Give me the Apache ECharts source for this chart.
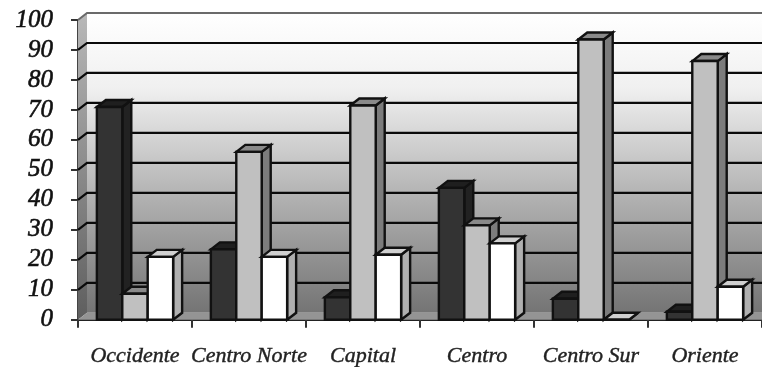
<!DOCTYPE html>
<html>
<head>
<meta charset="utf-8">
<style>html,body{margin:0;padding:0;background:#fff}#c{width:762px;height:367px}</style>
<script src="https://cdn.jsdelivr.net/npm/echarts@6/dist/echarts.min.js"></script>
</head>
<body>
<div id="c"></div>
<script>
// Regional percentages drawn as pseudo-3D columns
const categories = ['Occidente', 'Centro Norte', 'Capital', 'Centro', 'Centro Sur', 'Oriente'];
const darkValues = [71, 23.5, 7.5, 44, 7, 2.7];
const grayValues = [8.7, 56, 71.5, 31.5, 93.5, 86.3];
const whiteValues = [21, 21, 21.7, 25.5, 0, 11];
const gridTicks = [10, 20, 30, 40, 50, 60, 70, 80, 90];

// Oblique projection offset of the chart's depth, in pixels
const DEPTH_X = 9;
const DEPTH_Y = -7;
const SLOT_SHARE = 0.223;
const EDGE = '#111';

const poly = (points, fill) => ({
  type: 'polygon',
  shape: { points },
  style: { fill, stroke: EDGE, lineWidth: 2.4 }
});

// One column: front, top and side faces for a slot within its category
function columnRenderer(slot, front, top, side) {
  return function (params, api) {
    const cat = api.value(0);
    const base = api.coord([cat, 0]);
    const head = api.coord([cat, api.value(1)]);
    const band = api.size([1, 0])[0];
    const w = band * SLOT_SHARE;
    const x0 = base[0] + (slot - 1.5) * w;
    const x1 = x0 + w;
    const yT = head[1];
    const yB = base[1];
    return {
      type: 'group',
      children: [
        poly([[x1, yB], [x1 + DEPTH_X, yB + DEPTH_Y], [x1 + DEPTH_X, yT + DEPTH_Y], [x1, yT]], side),
        poly([[x0, yT], [x0 + DEPTH_X, yT + DEPTH_Y], [x1 + DEPTH_X, yT + DEPTH_Y], [x1, yT]], top),
        poly([[x0, yB], [x0, yT], [x1, yT], [x1, yB]], front)
      ]
    };
  };
}

function columnSeries(name, values, slot, front, top, side) {
  return {
    name,
    type: 'custom',
    coordinateSystem: 'cartesian2d',
    z: 5,
    clip: false,
    encode: { x: 0, y: 1 },
    data: values.map((v, i) => [i, v]),
    renderItem: columnRenderer(slot, front, top, side)
  };
}

// Back wall, side wall and floor of the plot box, spanned from the axes
function renderBox(params, api) {
  const c = params.coordSys;
  const left = c.x, right = c.x + c.width;
  const top = api.coord([0, 100])[1];
  const floor = api.coord([0, 0])[1];
  const bx = left + DEPTH_X;
  return {
    type: 'group',
    children: [
      { type: 'rect', shape: { x: bx, y: top + DEPTH_Y, width: right - bx + 1, height: floor - top },
        style: { fill: { type: 'linear', x: 0, y: 0, x2: 0, y2: 1, colorStops: [
          { offset: 0, color: '#ffffff' }, { offset: 0.25, color: '#f0f0f0' },
          { offset: 0.6, color: '#b4b4b4' }, { offset: 1, color: '#747474' }] } } },
      { type: 'polygon', shape: { points: [[left, floor], [left, top], [bx, top + DEPTH_Y], [bx, floor + DEPTH_Y]] },
        style: { fill: { type: 'linear', x: 0, y: 0, x2: 0, y2: 1, colorStops: [
          { offset: 0, color: '#b8b8b8' }, { offset: 0.5, color: '#8c8c8c' }, { offset: 1, color: '#5e5e5e' }] } } },
      { type: 'polygon', shape: { points: [[left, floor], [bx, floor + DEPTH_Y], [right + 1, floor + DEPTH_Y], [right + 1, floor]] },
        style: { fill: '#949494' } },
      { type: 'polyline', shape: { points: [[left, top], [bx, top + DEPTH_Y], [right + 1, top + DEPTH_Y]] },
        style: { fill: 'none', stroke: '#6a6a6a', lineWidth: 2 } }
    ]
  };
}

// Gridline on the back wall with its return across the side wall
function renderGridline(params, api) {
  const c = params.coordSys;
  const y = api.coord([0, api.value(0)])[1];
  const left = c.x, right = c.x + c.width;
  return {
    type: 'polyline',
    shape: { points: [[left, y], [left + DEPTH_X, y + DEPTH_Y], [right + 1, y + DEPTH_Y]] },
    style: { fill: 'none', stroke: '#0a0a0a', lineWidth: 2.2 }
  };
}

const chart = echarts.init(document.getElementById('c'), null, { renderer: 'canvas' });
chart.setOption({
  animation: false,
  backgroundColor: '#ffffff',
  grid: { left: 78, right: -1, top: 20, bottom: 47 },
  xAxis: {
    type: 'category',
    data: categories,
    boundaryGap: true,
    axisLine: { show: true, onZero: false, lineStyle: { color: '#222', width: 2 } },
    axisTick: { show: true, length: 8, lineStyle: { color: '#333', width: 2 } },
    axisLabel: { interval: 0, hideOverlap: false, margin: 25, fontFamily: 'Liberation Serif', fontStyle: 'italic', fontSize: 22, color: '#222', textBorderColor: '#222', textBorderWidth: 0.4 },
    splitLine: { show: false }
  },
  yAxis: {
    type: 'value',
    min: 0,
    max: 100,
    interval: 10,
    axisLine: { show: true, lineStyle: { color: '#444', width: 2 } },
    axisTick: { show: true, length: 7, lineStyle: { color: '#333', width: 2 } },
    axisLabel: { margin: 25, fontFamily: 'Liberation Serif', fontStyle: 'italic', fontSize: 25, color: '#111', textBorderColor: '#111', textBorderWidth: 0.6 },
    splitLine: { show: false }
  },
  series: [
    { type: 'custom', z: 1, clip: false, silent: true, data: [[0]], encode: { y: 0 }, renderItem: renderBox },
    { type: 'custom', z: 2, clip: false, silent: true, data: gridTicks.map(v => [v]), encode: { y: 0 }, renderItem: renderGridline },
    columnSeries('Oscuro', darkValues, 0, '#333333', '#1f1f1f', '#222222'),
    columnSeries('Gris', grayValues, 1, '#c0c0c0', '#8a8a8a', '#7c7c7c'),
    columnSeries('Blanco', whiteValues, 2, '#ffffff', '#d0d0d0', '#b0b0b0')
  ]
});
</script>
</body>
</html>
